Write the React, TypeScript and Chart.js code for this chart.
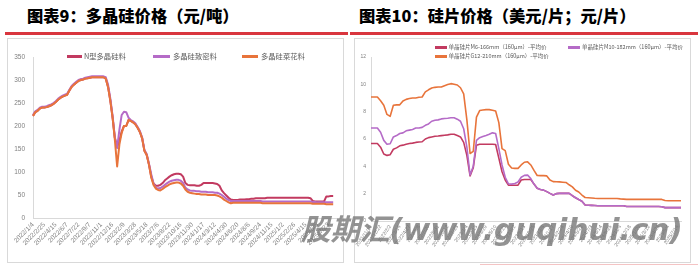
import React, { useEffect, useRef } from "react";
import { Chart, registerables } from "chart.js";
Chart.register(...registerables);

// ---------- Left chart: 多晶硅价格 ----------
const polyTicks = [
  "2022/1/4", "2022/2/25", "2022/4/15", "2022/6/7", "2022/7/22", "2022/9/7", "2022/11/1",
  "2022/12/16", "2023/2/9", "2023/3/28", "2023/5/18", "2023/7/6", "2023/8/22", "2023/10/16",
  "2023/11/30", "2024/1/17", "2024/3/12", "2024/4/30", "2024/6/20", "2024/8/6", "2024/9/24",
  "2024/11/15", "2025/1/2", "2025/2/26", "2025/4/15", "2025/6/5", "2025/7/23",
];
const polySeriesNames = ["N型多晶硅料", "多晶硅致密料", "多晶硅菜花料"];
const nTypeSi = [
  222, 230, 233, 238, 240, 240, 241, 243, 245, 248,
  252, 257, 261, 264, 266, 268, 277, 285, 290, 294,
  298, 300, 301, 303, 304, 305, 306, 306, 306, 306,
  306, 306, 303, 285, 255, 218, 174, 155, 168, 188,
  200, 200, 213, 211, 208, 204, 196, 187, 173, 146,
  137, 116, 90, 75, 70, 70, 72, 76, 82, 86,
  90, 93, 95, 96, 96, 95, 90, 76, 72, 71,
  71, 71, 70, 70, 72, 76, 76, 76, 76, 76,
  75, 74, 70, 60, 54, 49, 44, 40, 39, 39,
  39, 40, 40, 40, 41, 41, 42, 42, 43, 43,
  43, 43, 43, 44, 44, 44, 44, 44, 44, 44,
  44, 44, 44, 44, 44, 44, 44, 44, 44, 44,
  44, 44, 43, 37, 36, 36, 36, 36, 36, 47,
  47, 48, 48,
];
const denseSi = [
  224, 232, 235, 240, 242, 242, 243, 245, 247, 250,
  254, 259, 263, 266, 268, 270, 279, 287, 292, 296,
  300, 302, 303, 305, 306, 307, 308, 308, 308, 308,
  308, 308, 306, 290, 260, 222, 175, 152, 192, 224,
  231, 230, 218, 213, 210, 206, 198, 189, 175, 148,
  139, 118, 95, 75, 66, 64, 65, 68, 72, 76,
  79, 81, 82, 83, 83, 81, 76, 66, 62, 60,
  59, 59, 58, 58, 57, 57, 57, 56, 56, 56,
  55, 55, 53, 50, 46, 42, 39, 37, 37, 37,
  37, 37, 37, 37, 37, 37, 37, 37, 37, 37,
  37, 36, 36, 36, 36, 36, 36, 36, 36, 36,
  36, 36, 36, 36, 36, 36, 36, 36, 36, 36,
  36, 36, 36, 35, 35, 34, 34, 34, 34, 34,
  34, 34, 34,
];
const cauliSi = [
  222, 230, 233, 238, 240, 240, 241, 243, 245, 248,
  252, 257, 261, 264, 266, 268, 277, 285, 290, 294,
  298, 300, 301, 303, 304, 305, 306, 306, 306, 306,
  306, 306, 303, 285, 255, 218, 170, 112, 160, 185,
  200, 200, 213, 211, 208, 204, 196, 187, 173, 146,
  137, 116, 88, 72, 64, 61, 60, 63, 67, 70,
  73, 75, 76, 77, 77, 75, 70, 62, 57, 55,
  54, 53, 52, 52, 51, 51, 51, 50, 50, 50,
  50, 49, 47, 44, 40, 37, 34, 32, 33, 33,
  33, 33, 33, 33, 33, 33, 33, 33, 33, 33,
  33, 32, 32, 32, 32, 32, 32, 32, 32, 32,
  32, 32, 32, 32, 32, 32, 32, 32, 32, 32,
  32, 32, 32, 31, 31, 31, 31, 31, 31, 30,
  30, 30, 30,
];

// ---------- Right chart: 硅片价格 ----------
const waferTicks = [
  "2021/11/10", "2021/12/22", "2022/2/2", "2022/3/16", "2022/4/27", "2022/6/8", "2022/7/20",
  "2022/8/31", "2022/10/12", "2022/11/23", "2023/1/4", "2023/2/15", "2023/3/29", "2023/5/10",
  "2023/6/21", "2023/8/2", "2023/9/13", "2023/10/25", "2023/12/6", "2024/1/17", "2024/2/28",
  "2024/4/10", "2024/5/22", "2024/7/3", "2024/8/14", "2024/9/25", "2024/11/6", "2024/12/18",
  "2025/1/29", "2025/3/12", "2025/4/23", "2025/6/4", "2025/7/16",
];
const waferSeriesNames = [
  "单晶硅片M6-166mm（160μm）-平均价",
  "单晶硅片M10-182mm（160μm）-平均价",
  "单晶硅片G12-210mm（160μm）-平均价",
];
const m6Wafer = [
  5.67, 5.67, 5.67, 5.4, 4.9, 4.8, 4.85, 5.25, 5.35, 5.5,
  5.55, 5.62, 5.67, 5.7, 5.75, 5.78, 5.8, 6.0, 6.1, 6.15,
  6.2, 6.22, 6.25, 6.28, 6.3, 6.35, 6.35, 6.25, 6.15, 5.75,
  4.8, 3.3, 3.9, 5.55, 5.62, 5.62, 5.62, 5.62, 5.62, 5.6,
  4.6, 3.6, 3.0, 2.62, 2.62, 2.62, 2.62, 3.0, 3.04, 3.04,
  3.04, 2.7, 2.4, 2.3, 2.26, 2.15, 2.02, 1.9, 2.0, 2.02,
  2.02, 2.02, 2.02, 1.85, 1.7, 1.57, 1.45, 1.17, 1.15, 1.14,
  1.13, 1.12, 1.12, 1.12, 1.12, 1.12, 1.12, 1.12, 1.12, 1.12,
  1.06, 1.06, 1.06, 1.06, 1.06, 1.06, 1.06, 1.06, 1.06, 1.06,
  1.06, 1.04, 0.98, 0.98, 0.98, 0.98, 0.98, 0.98,
];
const m10Wafer = [
  6.81, 6.81, 6.81, 6.5, 5.9, 5.62, 5.65, 6.15, 6.25, 6.4,
  6.45, 6.6, 6.65, 6.7, 6.8, 6.81, 6.85, 7.0, 7.1, 7.3,
  7.37, 7.4, 7.47, 7.5, 7.52, 7.55, 7.55, 7.45, 7.3, 6.75,
  5.4, 3.36, 4.0, 5.9, 6.1, 6.18, 6.26, 6.35, 6.45, 6.4,
  5.3, 4.1, 3.2, 2.72, 2.7, 2.75, 2.85, 3.2, 3.34, 3.36,
  3.1, 2.7, 2.4, 2.3, 2.26, 2.15, 2.02, 1.9, 2.0, 2.02,
  2.02, 2.02, 2.02, 1.85, 1.7, 1.57, 1.45, 1.17, 1.15, 1.14,
  1.13, 1.12, 1.12, 1.12, 1.12, 1.12, 1.12, 1.12, 1.12, 1.12,
  1.06, 1.06, 1.06, 1.06, 1.06, 1.06, 1.06, 1.06, 1.06, 1.06,
  1.06, 1.04, 0.98, 0.98, 0.98, 0.98, 0.98, 0.98,
];
const g12Wafer = [
  9.07, 9.07, 9.07, 8.8, 8.47, 7.8, 7.66, 8.47, 8.5, 8.5,
  8.78, 8.9, 8.96, 9.0, 9.0, 9.05, 9.07, 9.45, 9.6, 9.73,
  9.78, 9.8, 9.8, 9.9, 9.98, 10.05, 10.0, 9.95, 9.75, 9.3,
  7.4, 4.94, 5.1, 7.6, 8.08, 8.12, 8.15, 8.15, 8.1, 8.05,
  7.2, 5.3, 5.15, 4.15, 3.88, 3.85, 3.85, 4.1, 4.3, 4.33,
  4.1, 3.7, 3.33, 3.32, 3.32, 3.3, 3.0, 2.88, 2.87, 2.86,
  2.84, 2.82, 2.65, 2.5, 2.25, 2.12, 1.9, 1.72, 1.7, 1.68,
  1.66, 1.65, 1.65, 1.65, 1.65, 1.65, 1.65, 1.65, 1.62, 1.6,
  1.58, 1.58, 1.58, 1.58, 1.58, 1.58, 1.58, 1.58, 1.58, 1.58,
  1.58, 1.58, 1.5, 1.48, 1.48, 1.48, 1.48, 1.48,
];

const RED = "#c23a60";
const PURPLE = "#b56bc7";
const ORANGE = "#e8743b";
const AXIS = "#d9d9d9";
const TICK = "#808080";
const TICK_FONT = "Liberation Sans";

const polyLabels = Array.from({ length: 136 }, (_, i) =>
  i % 5 === 0 && polyTicks[i / 5] ? polyTicks[i / 5] : ""
);
const waferLabels = Array.from({ length: 98 }, (_, i) =>
  i % 3 === 0 && waferTicks[i / 3] ? waferTicks[i / 3] : ""
);

function lineDs(label: string, data: number[], color: string, width: number, order: number) {
  return {
    label,
    data,
    borderColor: color,
    backgroundColor: color,
    borderWidth: width,
    pointRadius: 0,
    tension: 0,
    fill: false,
    order,
    borderJoinStyle: "round" as const,
  };
}

function makeConfig(opts: {
  labels: string[];
  datasets: any[];
  yMax: number;
  yStep: number;
  yWidth: number;
  xHeight: number;
  padTop: number;
  padRight: number;
  yFont: number;
  xFont: number;
  yPad: number;
  xRot: number;
}): any {
  return {
    type: "line",
    data: { labels: opts.labels, datasets: opts.datasets },
    options: {
      animation: false,
      responsive: false,
      maintainAspectRatio: false,
      events: [],
      layout: { padding: { top: opts.padTop, right: opts.padRight, left: 0, bottom: 0 } },
      plugins: { legend: { display: false }, tooltip: { enabled: false } },
      scales: {
        x: {
          grid: { display: false, drawTicks: false },
          border: { display: true, color: AXIS, width: 1 },
          ticks: {
            autoSkip: false,
            maxRotation: opts.xRot,
            minRotation: opts.xRot,
            padding: 3,
            color: TICK,
            font: { size: opts.xFont, family: TICK_FONT },
          },
          afterFit: (s: any) => {
            s.height = opts.xHeight;
            s.paddingLeft = 0;
            s.paddingRight = 0;
          },
        },
        y: {
          min: 0,
          max: opts.yMax,
          grid: { display: false, drawTicks: false },
          border: { display: true, color: AXIS, width: 1 },
          ticks: {
            stepSize: opts.yStep,
            padding: opts.yPad,
            color: TICK,
            font: { size: opts.yFont, family: TICK_FONT },
          },
          afterFit: (s: any) => {
            s.width = opts.yWidth;
          },
        },
      },
    },
  };
}

const abs = (o: React.CSSProperties): React.CSSProperties => ({ position: "absolute", ...o });

function LegendItem(p: { x: number; y: number; color: string; len: number; text: string; size: number; gap: number }) {
  return (
    <>
      <div style={abs({ left: p.x, top: p.y - 1, width: p.len, height: 2.5, background: p.color })} />
      <div
        style={abs({
          left: p.x + p.len + p.gap,
          top: p.y - p.size * 0.75,
          fontSize: p.size,
          lineHeight: `${p.size * 1.5}px`,
          color: "#595959",
          whiteSpace: "nowrap",
          fontFamily: '"Noto Sans CJK SC", "Noto Sans", sans-serif',
        })}
      >
        {p.text}
      </div>
    </>
  );
}

export default function App() {
  const leftRef = useRef<HTMLCanvasElement>(null);
  const rightRef = useRef<HTMLCanvasElement>(null);

  useEffect(() => {
    const c1 = new Chart(
      leftRef.current!,
      makeConfig({
        labels: polyLabels,
        datasets: [
          lineDs(polySeriesNames[0], nTypeSi, RED, 2, 2),
          lineDs(polySeriesNames[1], denseSi, PURPLE, 2, 1),
          lineDs(polySeriesNames[2], cauliSi, ORANGE, 2, 0),
        ],
        yMax: 350,
        yStep: 50,
        yWidth: 24,
        xHeight: 43,
        padTop: 18,
        padRight: 3,
        yFont: 6.5,
        xFont: 6.5,
        yPad: 8,
        xRot: 45,
      })
    );
    const c2 = new Chart(
      rightRef.current!,
      makeConfig({
        labels: waferLabels,
        datasets: [
          lineDs(waferSeriesNames[0], m6Wafer, RED, 1.6, 1),
          lineDs(waferSeriesNames[1], m10Wafer, PURPLE, 1.6, 0),
          lineDs(waferSeriesNames[2], g12Wafer, ORANGE, 1.6, 2),
        ],
        yMax: 12,
        yStep: 2,
        yWidth: 16,
        xHeight: 41,
        padTop: 18,
        padRight: 8,
        yFont: 5,
        xFont: 5,
        yPad: 5,
        xRot: 55,
      })
    );
    return () => {
      c1.destroy();
      c2.destroy();
    };
  }, []);

  const titleStyle: React.CSSProperties = {
    fontFamily: '"Noto Sans CJK SC", sans-serif',
    fontWeight: 900,
    fontSize: 16.3,
    lineHeight: "16px",
    color: "#000",
    whiteSpace: "nowrap",
  };

  return (
    <div style={abs({ left: 0, top: 0, width: 698, height: 265, background: "#fff", overflow: "hidden" })}>
      <div style={abs({ left: 27, top: 7, ...titleStyle })}>图表9：多晶硅价格（元/吨）</div>
      <div style={abs({ left: 359, top: 7, ...titleStyle })}>图表10：硅片价格（美元/片；元/片）</div>
      <div style={abs({ left: 5, top: 32, width: 343, height: 3, background: "#d9363e" })} />
      <div style={abs({ left: 350, top: 32, width: 348, height: 3, background: "#d9363e" })} />

      <div style={abs({ left: 7, top: 38, width: 337, height: 225, border: "1px solid #d9d9d9", boxSizing: "border-box" })} />
      <div style={abs({ left: 354, top: 38, width: 337, height: 225, border: "1px solid #d9d9d9", boxSizing: "border-box" })} />
      <div style={abs({ left: 480, top: 264, width: 218, height: 1, background: "rgba(220,60,60,0.3)" })} />

      <canvas ref={leftRef} width={334} height={222} style={abs({ left: 9, top: 39 })} />
      <canvas ref={rightRef} width={334} height={223} style={abs({ left: 355, top: 39 })} />

      <LegendItem x={67} y={56} color={RED} len={15} text={polySeriesNames[0]} size={7.3} gap={2} />
      <LegendItem x={153} y={56} color={PURPLE} len={17} text={polySeriesNames[1]} size={7.3} gap={3} />
      <LegendItem x={242} y={56} color={ORANGE} len={16} text={polySeriesNames[2]} size={7.3} gap={3} />

      <LegendItem x={435} y={47} color={RED} len={12} text={waferSeriesNames[0]} size={5.5} gap={1.5} />
      <LegendItem x={568} y={47} color={PURPLE} len={12} text={waferSeriesNames[1]} size={5.5} gap={2} />
      <LegendItem x={435} y={56} color={ORANGE} len={12} text={waferSeriesNames[2]} size={5.5} gap={1.5} />

      <div
        style={abs({
          left: 301,
          top: 216,
          fontFamily: '"DejaVu Sans", "Noto Sans CJK SC", sans-serif',
          fontWeight: 700,
          fontStyle: "italic",
          fontSize: 29.5,
          lineHeight: "29px",
          color: "rgba(120,120,120,0.8)",
          whiteSpace: "nowrap",
          pointerEvents: "none",
        })}
      >
        股期汇(www.guqihui.cn)
      </div>
    </div>
  );
}
